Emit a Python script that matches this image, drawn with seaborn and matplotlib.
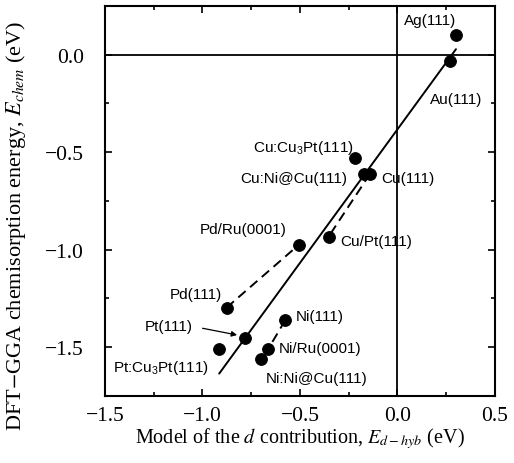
import numpy as np
import pandas as pd
import matplotlib
matplotlib.use("Agg")
import matplotlib.pyplot as plt
import seaborn as sns
from matplotlib.ticker import MultipleLocator

# Surfaces: model d-band contribution vs. DFT-GGA chemisorption energy (eV)
surfaces = ["Ag(111)", "Au(111)", "Cu:Cu$\\mathregular{_3}$Pt(111)", "Cu:Ni@Cu(111)", "Cu(111)",
            "Cu/Pt(111)", "Pd/Ru(0001)", "Pd(111)", "Pt(111)", "Pt:Cu$\\mathregular{_3}$Pt(111)",
            "Ni(111)", "Ni/Ru(0001)", "Ni:Ni@Cu(111)"]
e_dhyb = [0.30, 0.27, -0.22, -0.17, -0.14, -0.353, -0.505, -0.876, -0.779, -0.914,
          -0.575, -0.662, -0.702]
e_chem = [0.10, -0.03, -0.53, -0.61, -0.61, -0.933, -0.974, -1.297, -1.451, -1.511,
          -1.361, -1.508, -1.559]

# Label anchor positions (data units) for each surface
label_x = [0.167, 0.303, -0.483, -0.531, 0.052, -0.107, -0.791, -1.033, -1.172, -1.213,
           -0.397, -0.397, -0.414]
label_y = [0.176, -0.226, -0.473, -0.631, -0.631, -0.956, -0.896, -1.229, -1.391, -1.602,
           -1.340, -1.503, -1.656]

# Pairs joined by dashed lines (overlayer vs. pure metal)
dashed_pairs = [("Pd(111)", "Pd/Ru(0001)"), ("Ni(111)", "Ni/Ru(0001)"),
                ("Cu(111)", "Cu/Pt(111)")]

df = pd.DataFrame({"surface": surfaces, "x": e_dhyb, "y": e_chem})

sns.set_theme(style="ticks")
plt.rcParams["font.family"] = ["Liberation Sans", "DejaVu Sans"]
plt.rcParams["mathtext.fontset"] = "stix"

fig = plt.figure(figsize=(5.14, 4.64), dpi=100)
ax = fig.add_axes([0.204, 0.1444, 0.759, 0.8406])

ax.axhline(0, color="black", lw=1.3, zorder=1)
ax.axvline(0, color="black", lw=1.3, zorder=1)

for a, b in dashed_pairs:
    p = df.set_index("surface").loc[[a, b]]
    ax.plot(p["x"], p["y"], color="black", lw=1.4, ls=(0, (5, 3)), zorder=2)

sns.regplot(data=df, x="x", y="y", ax=ax, ci=None, scatter=False,
            line_kws=dict(color="black", lw=1.4, zorder=2))
sns.scatterplot(data=df, x="x", y="y", ax=ax, color="black", s=72,
                edgecolor="black", zorder=3, legend=False)

for name, lx, ly in zip(surfaces, label_x, label_y):
    ax.text(lx, ly, name, fontsize=11, ha="center", va="center", color="black")

ax.annotate("", xy=(-0.808, -1.44), xytext=(-1.013, -1.400),
            arrowprops=dict(arrowstyle="-|>", color="black", lw=0.9,
                            mutation_scale=8))

ax.set_xlim(-1.5, 0.5)
ax.set_ylim(-1.75, 0.25)
ax.xaxis.set_minor_locator(MultipleLocator(0.25))
ax.yaxis.set_minor_locator(MultipleLocator(0.25))
ax.tick_params(which="both", direction="in", top=True, right=True, width=1.2, color="black")
ax.tick_params(which="major", length=5)
ax.tick_params(which="minor", length=3)
ax.set_xticks([-1.5, -1.0, -0.5, 0.0, 0.5])
ax.set_xticklabels(["\u22121.5", "\u22121.0", "\u22120.5", "0.0", "0.5"])
ax.set_yticks([0.0, -0.5, -1.0, -1.5])
ax.set_yticklabels(["0.0", "\u22120.5", "\u22121.0", "\u22121.5"])
for lab in ax.get_xticklabels() + ax.get_yticklabels():
    lab.set_fontfamily("Liberation Serif")
    lab.set_fontsize(15.5)
    lab.set_color("black")
ax.tick_params(axis="x", pad=7)
ax.tick_params(axis="y", pad=15)
for s in ax.spines.values():
    s.set_linewidth(1.5)
    s.set_color("black")

ax.set_xlabel(r"Model of the $d$ contribution, $E_{d-hyb}$ (eV)",
              fontfamily="Liberation Serif", fontsize=14.5, color="black", labelpad=0)
ax.set_ylabel(r"DFT$-$GGA chemisorption energy, $E_{chem}$ (eV)",
              fontfamily="Liberation Serif", fontsize=16, color="black")
ax.yaxis.set_label_coords(-0.197, 0.44)

fig.savefig("out.png", dpi=100)
